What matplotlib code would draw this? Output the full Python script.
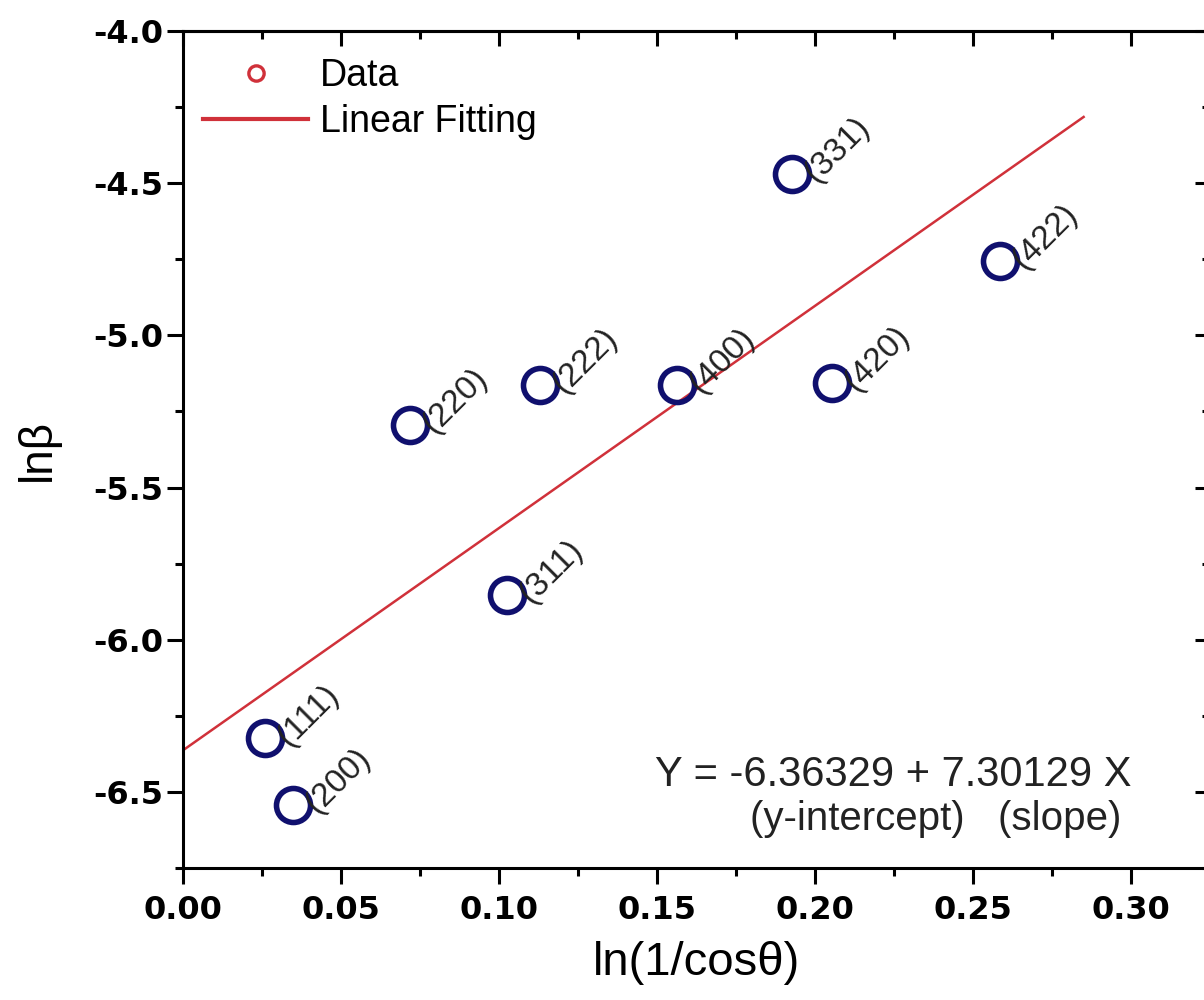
import matplotlib
matplotlib.use("Agg")
import matplotlib.pyplot as plt
from matplotlib.lines import Line2D
from matplotlib.ticker import MultipleLocator, FormatStrFormatter

# Williamson-Hall style data: ln(1/cos theta) vs ln(beta)
planes = ["(111)", "(200)", "(220)", "(311)", "(222)", "(400)", "(331)", "(420)", "(422)"]
x_vals = [0.0259, 0.0348, 0.0718, 0.1025, 0.1130, 0.1563, 0.1927, 0.2054, 0.2585]
y_vals = [-6.323, -6.543, -5.294, -5.853, -5.163, -5.163, -4.470, -5.156, -4.756]

intercept = -6.36329
slope = 7.30129
fit_x = [0.0, 0.285]

plt.rcParams["font.family"] = ["Liberation Sans", "DejaVu Sans"]

fig = plt.figure(figsize=(12.04, 10.0), dpi=100)
ax = fig.add_axes([0.152, 0.132, 0.853, 0.837])

navy = "#10106e"
red = "#d0313a"

fit_y = [intercept + slope * v for v in fit_x]
ax.plot(fit_x, fit_y, color=red, lw=1.8, zorder=2)
ax.plot(x_vals, y_vals, linestyle="none", marker="o", markersize=24.5,
        markerfacecolor="none", markeredgecolor=navy, markeredgewidth=4.0, zorder=3)

for lab, xv, yv in zip(planes, x_vals, y_vals):
    ax.annotate(lab, (xv, yv), xytext=(13, -2), textcoords="offset points",
                rotation=45, rotation_mode="anchor", ha="left", va="center",
                fontsize=24, color="#222222", zorder=4)

ax.set_xlim(0.0, 0.325)
ax.set_ylim(-6.75, -4.0)
ax.xaxis.set_major_locator(MultipleLocator(0.05))
ax.xaxis.set_minor_locator(MultipleLocator(0.025))
ax.yaxis.set_major_locator(MultipleLocator(0.5))
ax.yaxis.set_minor_locator(MultipleLocator(0.25))
ax.xaxis.set_major_formatter(FormatStrFormatter("%.2f"))
ax.yaxis.set_major_formatter(FormatStrFormatter("%.1f"))

for sp in ax.spines.values():
    sp.set_linewidth(2.2)

ax.tick_params(which="major", direction="out", length=11.5, width=2.2,
               labelsize=23)
ax.tick_params(axis="y", which="major", pad=3)
ax.tick_params(axis="x", which="major", pad=8)
ax.tick_params(which="minor", direction="out", length=6, width=2.2)
for t in ax.get_xticklabels() + ax.get_yticklabels():
    t.set_fontweight("bold")
    t.set_fontfamily(["DejaVu Sans"])

# inward ticks on the top and right frame
top = ax.secondary_xaxis("top")
top.xaxis.set_major_locator(MultipleLocator(0.05))
top.xaxis.set_minor_locator(MultipleLocator(0.025))
top.tick_params(which="major", direction="in", length=11, width=2.2, labeltop=False)
top.tick_params(which="minor", direction="in", length=6, width=2.2)
top.spines["top"].set_linewidth(2.2)
right = ax.secondary_yaxis("right")
right.yaxis.set_major_locator(MultipleLocator(0.5))
right.yaxis.set_minor_locator(MultipleLocator(0.25))
right.tick_params(which="major", direction="in", length=11, width=2.2, labelright=False)
right.tick_params(which="minor", direction="in", length=6, width=2.2)
right.spines["right"].set_linewidth(2.2)

ax.set_xlabel("ln(1/cos\u03b8)", fontsize=34, labelpad=11)
ax.set_ylabel("ln\u03b2", fontsize=33, labelpad=24)

handles = [
    Line2D([], [], linestyle="none", marker="o", markersize=11,
           markerfacecolor="none", markeredgecolor=red, markeredgewidth=2.4),
    Line2D([], [], color=red, lw=3.0),
]
ax.legend(handles, ["Data", "Linear Fitting"], loc="upper left",
          bbox_to_anchor=(0.0195, 0.968), frameon=False, fontsize=27,
          handlelength=2.8, handletextpad=0.32, labelspacing=0.28,
          borderpad=0, borderaxespad=0)

ax.text(0.46, 0.111, "Y = -6.36329 + 7.30129 X", transform=ax.transAxes,
        fontsize=30, ha="left", va="center", color="#222222")
ax.text(0.552, 0.058, "(y-intercept)   (slope)", transform=ax.transAxes,
        fontsize=29, ha="left", va="center", color="#222222")

fig.savefig("out.png", dpi=100)
